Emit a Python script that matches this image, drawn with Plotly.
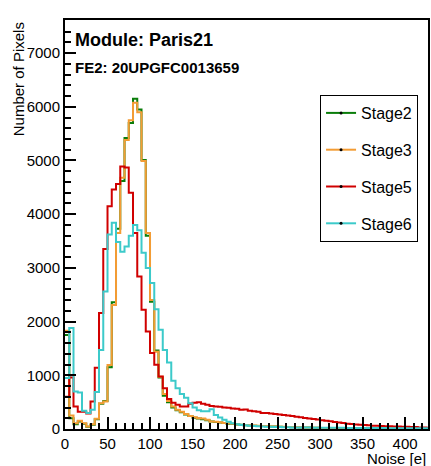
import numpy as np
import plotly.graph_objects as go

# ---------------- data (bin contents, 5 e wide bins starting at 0) ----------------
bin_width = 5
n_bins = 86

stage2 = [1750, 200, 90, 140, 100, 40, 80, 180, 470, 520,
          1150, 2360, 3730, 4620, 5420, 5700, 6150, 5950, 5010, 3600,
          2370, 1460, 960, 620, 500, 400, 350, 310, 270, 240,
          210, 195, 180, 165, 140, 130, 120, 110, 100, 95,
          85, 80, 70, 65, 60, 58, 55, 52, 48, 45,
          40, 38, 36, 34, 32, 30, 28, 26, 24, 22,
          20, 18, 15, 14, 12, 10, 10, 9, 8, 7,
          6, 5, 5, 4, 4, 4, 3, 3, 3, 2,
          2, 2, 2, 1, 1, 1]

stage3 = [1830, 250, 105, 155, 105, 45, 90, 190, 480, 510,
          1190, 2310, 3650, 4680, 5380, 5750, 6075, 5900, 4990, 3650,
          2400, 1440, 975, 650, 520, 420, 360, 320, 280, 240,
          220, 200, 195, 170, 140, 135, 125, 110, 105, 100,
          85, 75, 75, 70, 65, 60, 55, 55, 50, 45,
          40, 40, 38, 35, 35, 32, 30, 28, 25, 22,
          20, 18, 15, 14, 12, 10, 10, 9, 8, 7,
          6, 5, 5, 4, 4, 4, 3, 3, 3, 2,
          2, 2, 2, 1, 1, 1]

stage5 = [600, 960, 420, 320, 320, 290, 510, 1140, 2160, 3350,
          4150, 4460, 4560, 4890, 4870, 4400, 3650, 2840, 2220, 1815,
          1415, 1195, 976, 760, 560, 490, 450, 420, 420, 470,
          490, 500, 470, 450, 430, 420, 415, 400, 395, 380,
          375, 360, 365, 340, 330, 320, 300, 300, 290, 280,
          270, 260, 250, 240, 230, 220, 205, 195, 185, 175,
          165, 155, 145, 130, 120, 110, 100, 95, 85, 80,
          75, 70, 60, 60, 55, 50, 50, 45, 45, 40,
          40, 35, 35, 30, 30, 25]

stage6 = [950, 1880, 700, 680, 340, 300, 360, 690, 1470, 2560,
          3620, 3840, 3480, 3300, 3400, 3600, 3800, 3700, 3280, 3000,
          2720, 2230, 1850, 1470, 1240, 900, 760, 650, 580, 480,
          400, 350, 330, 330, 370, 260, 215, 170, 135, 105,
          90, 75, 70, 60, 55, 50, 45, 42, 40, 38,
          35, 33, 32, 30, 30, 28, 28, 26, 25, 25,
          24, 24, 23, 22, 22, 21, 20, 20, 20, 19,
          19, 18, 18, 18, 17, 17, 16, 16, 16, 15,
          15, 15, 15, 15, 14, 14]

series_names = ["Stage2", "Stage3", "Stage5", "Stage6"]
series_values = [stage2, stage3, stage5, stage6]
series_colors = ["#0a7d0a", "#f39c34", "#d00000", "#3ccaca"]

x_ticks = [0, 50, 100, 150, 200, 250, 300, 350, 400]
y_ticks = [0, 1000, 2000, 3000, 4000, 5000, 6000, 7000]

title_main = "Module: Paris21"
title_sub = "FE2: 20UPGFC0013659"
x_title = "Noise [e]"
y_title = "Number of Pixels"

# ---------------- figure ----------------
FONT = "Liberation Sans, Arial, Helvetica, sans-serif"
edges = np.arange(n_bins + 1) * bin_width

fig = go.Figure()
for name, vals, col in zip(series_names, series_values, series_colors):
    fig.add_trace(go.Scatter(
        x=edges, y=list(vals) + [vals[-1]], mode="lines",
        line=dict(color=col, width=2, shape="hv"),
        showlegend=False, hoverinfo="skip"))

# legend entries (ROOT style: line with small marker)
for i, (name, col) in enumerate(zip(series_names, series_colors)):
    fig.add_trace(go.Scatter(
        x=[None], y=[None], mode="lines+markers", name=name,
        legendgroup=f"g{i}",
        line=dict(color=col, width=2),
        marker=dict(color="black", size=3)))

W, H = 431, 466
L, R, T, B = 65, 1, 20, 37
pw, ph = W - L - R, H - T - B

fig.update_layout(
    width=W, height=H,
    margin=dict(l=L, r=R, t=T, b=B),
    paper_bgcolor="white", plot_bgcolor="white",
    font=dict(family=FONT, size=15, color="black"),
    showlegend=True,
    legend=dict(
        x=(420 - L) / pw, xanchor="right",
        y=(H - B - 95) / ph, yanchor="top",
        bgcolor="white", bordercolor="black", borderwidth=1,
        font=dict(family=FONT, size=16, color="black"),
        tracegroupgap=13, itemwidth=30),
    xaxis=dict(
        range=[0, 427], showgrid=False, zeroline=False,
        showline=True, linecolor="black", linewidth=2, mirror=True,
        ticks="inside", ticklen=12, tickwidth=2, tickcolor="black",
        tickmode="array", tickvals=x_ticks, ticktext=[str(v) for v in x_ticks],
        tickfont=dict(family=FONT, size=15, color="black"),
        minor=dict(ticks="inside", ticklen=6, tickwidth=1.5, tickcolor="black", dtick=10, showgrid=False),
    ),
    yaxis=dict(
        range=[0, 7616], showgrid=False, zeroline=False,
        showline=True, linecolor="black", linewidth=2, mirror=True,
        ticks="inside", ticklen=11, tickwidth=2, tickcolor="black",
        tickmode="array", tickvals=y_ticks, ticktext=[str(v) for v in y_ticks],
        tickfont=dict(family=FONT, size=15, color="black"),
        minor=dict(ticks="inside", ticklen=6, tickwidth=1.5, tickcolor="black", dtick=200, showgrid=False),
    ),
)

def px_x(px):
    return (px - L) / pw

def px_y(py):
    return (H - B - py) / ph

fig.add_annotation(text=f"<b>{title_main}</b>", xref="paper", yref="paper",
                   x=px_x(73), y=px_y(40), xanchor="left", yanchor="middle",
                   showarrow=False, font=dict(family=FONT, size=18, color="black"))
fig.add_annotation(text=f"<b>{title_sub}</b>", xref="paper", yref="paper",
                   x=px_x(73), y=px_y(67), xanchor="left", yanchor="middle",
                   showarrow=False, font=dict(family=FONT, size=15, color="black"))
fig.add_annotation(text=x_title, xref="paper", yref="paper",
                   x=px_x(430), y=px_y(458), xanchor="right", yanchor="middle",
                   showarrow=False, font=dict(family=FONT, size=15, color="black"))
fig.add_annotation(text=y_title, xref="paper", yref="paper", textangle=-90,
                   x=px_x(18), y=px_y(20), xanchor="center", yanchor="top",
                   showarrow=False, font=dict(family=FONT, size=15, color="black"))

fig.write_html("out.html",
               config={"displayModeBar": False},
               post_script="document.body.style.margin='0';document.body.style.padding='0';")
